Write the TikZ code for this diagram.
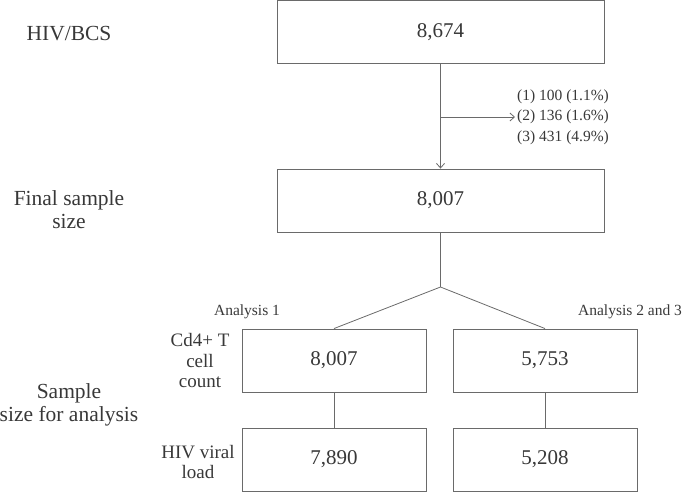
\documentclass[tikz,border=0pt]{standalone}
\usepackage{fontspec}
\setmainfont{Liberation Serif}
\usetikzlibrary{calc}
\usetikzlibrary{arrows.meta}

\definecolor{txtgray}{HTML}{383838}
\definecolor{linegray}{HTML}{6A6A6A}

\begin{document}
\begin{tikzpicture}[x=1pt,y=-1pt]
\useasboundingbox (0,0) rectangle (685,493);

\tikzset{
    numbox/.style={draw=linegray, line width=0.9pt, text=txtgray, inner sep=0pt,
        minimum height=63pt, font=\fontsize{21}{23}\selectfont},
    widebox/.style={numbox, minimum width=327pt},
    smallbox/.style={numbox, minimum width=184pt},
    sidelabel/.style={text=txtgray, align=center, font=\fontsize{21.5}{23.5}\selectfont},
    rowlabel/.style={text=txtgray, align=center, font=\fontsize{19}{20.5}\selectfont},
    note/.style={text=txtgray, align=left, font=\fontsize{15.5}{20.5}\selectfont},
    link/.style={draw=linegray, line width=0.8pt},
    tip/.style={-{Straight Barb[length=4.5pt,width=8pt]}}
}

\coordinate (t) at (440.5, 32);
\coordinate (f) at (440.5, 200.5);
\coordinate (cl) at (334, 360.5);
\coordinate (cr) at (545, 360.5);
\coordinate (vl) at (334, 459.5);
\coordinate (vr) at (545, 459.5);
\coordinate (s) at (440.5, 117);
\coordinate (k) at (440.5, 287);

\newcommand{\sidetext}[3]{
    \node[sidelabel] (#1) at (#2) {#3};
}

% boxes
\node[widebox] (total) at (t) {8,674};
\node[widebox] (final) at (f) {8,007};
\node[smallbox] (cdone) at (cl) {8,007};
\node[smallbox] (cdtwo) at (cr) {5,753};
\node[smallbox] (vlone) at (vl) {7,890};
\node[smallbox] (vltwo) at (vr) {5,208};

% labels on the left
\sidetext{hivbcs}{69, 34}{HIV/BCS}
\sidetext{finallab}{69, 209.5}{Final sample\\size}
\sidetext{samplelab}{69, 405}{Sample\\size for analysis}
\node[rowlabel] (cdlab) at (200, 360.5) {Cd4+ T\\cell\\count};
\node[rowlabel] (vllab) at (198, 462) {HIV viral\\load};

\node[note] (anone) at (247, 312) {Analysis 1};
\node[note] (antwo) at (630, 312) {Analysis 2 and 3};
\node[note, anchor=west, inner sep=2pt] (excl) at (515, 117) {(1) 100 (1.1\%)\\(2) 136 (1.6\%)\\(3) 431 (4.9\%)};

% connectors
\draw[link,tip] (total) -- (final);
\draw[link,tip] (s) -- (excl.west);
\draw[link] (final) -- (k);
\draw[link] (k) -- (cdone.north);
\draw[link] (k) -- (cdtwo.north);
\draw[link] (cdone) -- (vlone);
\draw[link] (cdtwo) -- (vltwo);
\end{tikzpicture}
\end{document}
